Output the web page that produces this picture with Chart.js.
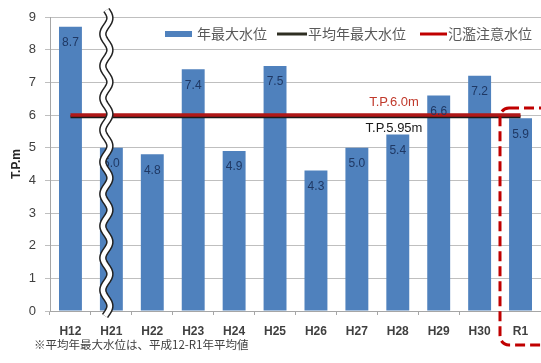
<!DOCTYPE html>
<html>
<head>
<meta charset="utf-8">
<script src="https://cdn.jsdelivr.net/npm/chart.js@4/dist/chart.umd.min.js"></script>
<style>
  html, body { margin: 0; padding: 0; background: #ffffff; }
  #wrap { width: 541px; height: 363px; position: relative; }
</style>
</head>
<body>
<div id="wrap"><canvas id="c" width="541" height="363"></canvas></div>
<script>
// Annual maximum water level by year (T.P. m)
const years = ['H12', 'H21', 'H22', 'H23', 'H24', 'H25', 'H26', 'H27', 'H28', 'H29', 'H30', 'R1'];
const annualMax = [8.7, 5.0, 4.8, 7.4, 4.9, 7.5, 4.3, 5.0, 5.4, 6.6, 7.2, 5.9];
// Mean of the annual maxima (H12–R1) and the flood-caution level
const meanLevel = 5.95;
const cautionLevel = 6.0;
const yTicks = [0, 1, 2, 3, 4, 5, 6, 7, 8, 9];

const legendNames = ['年最大水位', '平均年最大水位', '氾濫注意水位'];
const footnote = '※平均年最大水位は、平成12-R1年平均値';

const JP = '"Noto Sans CJK JP", "Noto Sans", sans-serif';
const LATIN = '"Liberation Sans", Arial, sans-serif';
const BLUE = '#4f81bd';
const RED = '#c00000';

// Value labels inside the top of each bar, level captions, legend, break mark, highlight box
const overlay = {
  id: 'overlay',
  afterDatasetsDraw(chart) {
    const ctx = chart.ctx;
    const y = chart.scales.y;
    const x = chart.scales.x;
    const bars = chart.getDatasetMeta(0).data;

    ctx.save();
    ctx.font = '12px ' + LATIN;
    ctx.fillStyle = '#1f3864';
    ctx.textAlign = 'center';
    ctx.textBaseline = 'middle';
    bars.forEach((b, i) => {
      ctx.fillText(annualMax[i].toFixed(1), b.x, b.y + 16);
    });

    // level captions
    ctx.font = '13px ' + LATIN;
    ctx.fillStyle = '#c0392b';
    ctx.fillText('T.P.' + cautionLevel.toFixed(1) + 'm', 394, y.getPixelForValue(cautionLevel) - 13);
    ctx.fillStyle = '#1a1a1a';
    ctx.fillText('T.P.' + meanLevel + 'm', 394, y.getPixelForValue(meanLevel) + 12);
    ctx.restore();

    // axis break (double wavy line) over the left edge of the H21 bar
    ctx.save();
    const bx = x.getPixelForValue(1) - 5;
    const wave = () => {
      ctx.beginPath();
      for (let py = 10; py <= 316; py += 1) {
        const px = bx + 3.5 * Math.sin((py - 10) / 32 * Math.PI * 2);
        if (py === 10) ctx.moveTo(px, py); else ctx.lineTo(px, py);
      }
    };
    ctx.lineCap = 'butt';
    wave(); ctx.strokeStyle = '#222222'; ctx.lineWidth = 7.5; ctx.stroke();
    wave(); ctx.strokeStyle = '#ffffff'; ctx.lineWidth = 4.5; ctx.stroke();
    ctx.restore();

    // legend
    ctx.save();
    const ly = 34;
    ctx.textAlign = 'left';
    ctx.textBaseline = 'middle';
    ctx.font = '14px ' + JP;
    ctx.fillStyle = BLUE;
    ctx.fillRect(165, ly - 3, 27, 6);
    ctx.fillStyle = '#595959';
    ctx.fillText(legendNames[0], 197, ly);
    ctx.strokeStyle = '#2e2e22'; ctx.lineWidth = 3;
    ctx.beginPath(); ctx.moveTo(277, ly); ctx.lineTo(307, ly); ctx.stroke();
    ctx.fillText(legendNames[1], 308, ly);
    ctx.strokeStyle = RED; ctx.lineWidth = 3;
    ctx.beginPath(); ctx.moveTo(420, ly); ctx.lineTo(447, ly); ctx.stroke();
    ctx.fillText(legendNames[2], 448, ly);

    // footnote
    ctx.font = '11.5px ' + JP;
    ctx.fillStyle = '#404040';
    ctx.fillText(footnote, 34, 345);
    ctx.restore();

    // dashed highlight box around the latest year
    ctx.save();
    ctx.strokeStyle = RED;
    ctx.lineWidth = 3;
    ctx.setLineDash([10, 5]);
    ctx.beginPath();
    if (ctx.roundRect) ctx.roundRect(500, 108, 60, 237, 9); else ctx.rect(500, 108, 60, 237);
    ctx.stroke();
    ctx.restore();
  }
};

new Chart(document.getElementById('c'), {
  type: 'bar',
  data: {
    labels: years,
    datasets: [
      {
        label: legendNames[0],
        data: annualMax,
        backgroundColor: BLUE,
        categoryPercentage: 1.0,
        barPercentage: 0.56,
        order: 3
      },
      {
        type: 'line',
        label: legendNames[1],
        data: years.map(() => meanLevel),
        borderColor: '#1a1a1a',
        borderWidth: 3,
        pointRadius: 0,
        order: 2
      },
      {
        type: 'line',
        label: legendNames[2],
        data: years.map(() => cautionLevel),
        borderColor: '#b01818',
        borderWidth: 3.5,
        pointRadius: 0,
        order: 1
      }
    ]
  },
  options: {
    responsive: false,
    animation: false,
    events: [],
    layout: { padding: { top: 17, right: 0, bottom: 0, left: 0 } },
    plugins: {
      legend: { display: false },
      tooltip: { enabled: false },
      title: { display: false }
    },
    scales: {
      x: {
        offset: true,
        grid: { offset: true, drawOnChartArea: false, tickLength: 4, color: '#a6a6a6' },
        border: { color: '#a6a6a6' },
        ticks: {
          color: '#404040',
          font: { family: LATIN, size: 12, weight: 'bold' },
          padding: 9,
          maxRotation: 0
        },
        afterFit(s) { s.height = 52; }
      },
      y: {
        min: 0,
        max: 9,
        afterBuildTicks(s) { s.ticks = yTicks.map(v => ({ value: v })); },
        grid: { color: '#bfbfbf', tickLength: 5 },
        border: { color: '#a6a6a6' },
        ticks: {
          color: '#404040',
          font: { family: LATIN, size: 13 },
          padding: 9
        },
        title: {
          display: true,
          text: 'T.P.m',
          color: '#262626',
          font: { family: LATIN, size: 12, weight: 'bold' },
          padding: { top: 9, bottom: 0 }
        },
        afterFit(s) { s.width = 50; }
      }
    }
  },
  plugins: [overlay]
});
</script>
</body>
</html>
